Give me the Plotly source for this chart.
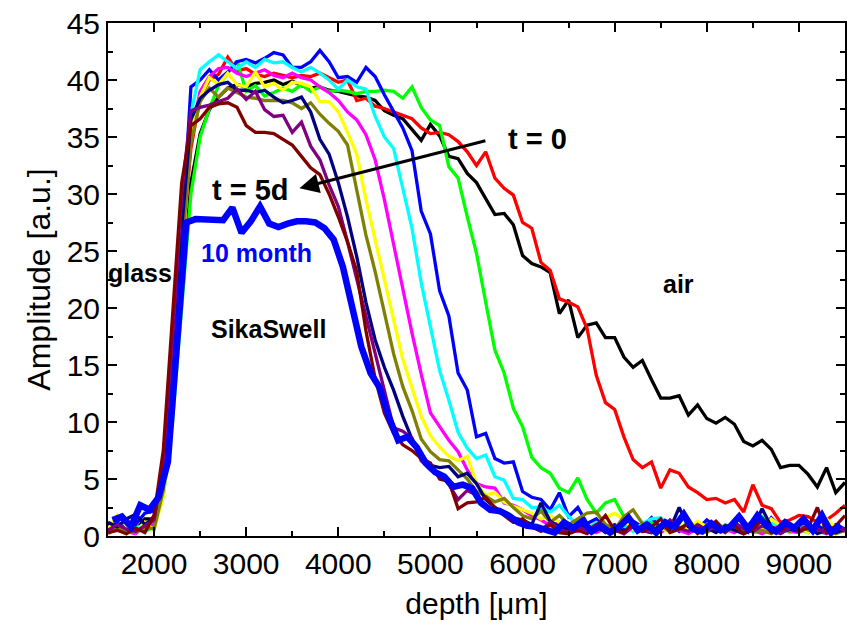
import plotly.graph_objects as go

# ---------------- data ----------------
depth = list(range(1500, 9501, 100))          # 81 points, common grid
depth_10m = list(range(1550, 9451, 100))      # 80 points, grid of the 10 month curve

amp_t0 = [1.0, 0.8, 1.2, 0.5, 1.5, 1.5, 4.5, 11, 21, 31,
          35.3, 37.4, 38.5, 39.3, 39.6, 39.4, 39.7, 39.8, 40.0, 39.6,
          39.9, 39.5, 39.3, 39.4, 39.1, 39.0, 38.8, 38.6, 38.5, 38.2,
          37.3, 36.9, 36.6, 35.6, 34.7, 36.1, 35.1, 33.3, 33.1, 31.8,
          31.0, 29.6, 28.2, 28.3, 27.3, 24.6, 23.9, 23.6, 23.1, 19.5,
          20.7, 17.4, 18.5, 18.7, 17.4, 17.4, 15.7, 14.8, 15.4, 13.7,
          12.1, 12.1, 12.3, 10.6, 11.5, 10.3, 9.9, 10.4, 9.8, 8.3,
          7.9, 8.4, 7.6, 6.0, 6.2, 6.2, 5.4, 4.3, 6.0, 3.8,
          4.7]
amp_red = [0.5, 1.0, 0.3, 0.8, 0.6, 1.8, 5.5, 14, 25, 34,
           38.5, 40.0, 40.5, 42.0, 40.8, 41.0, 40.5, 40.3, 40.6, 40.4,
           40.2, 40.4, 40.3, 40.6, 40.2, 39.8, 40.0, 38.2, 38.4, 37.7,
           37.5, 37.2, 36.9, 36.6, 35.8, 35.3, 35.4, 35.2, 34.6, 33.7,
           32.5, 33.7, 31.4, 30.5, 29.9, 27.5, 27.0, 24.0, 23.3, 20.8,
           20.5, 20.1, 18.2, 14.1, 11.7, 11.1, 8.7, 6.7, 6.0, 6.5,
           4.2, 5.8, 5.5, 4.3, 3.8, 3.2, 3.3, 2.9, 3.2, 2.1,
           4.5, 2.7, 2.4, 1.2, 1.4, 1.8, 1.7, 1.2, 1.4, 2.0,
           2.7]
amp_green = [0.3, 0.6, 0.2, 0.9, 0.4, 0.8, 3.5, 10, 20, 30,
             35, 37.5, 39.5, 40.6, 41.7, 39.0, 39.5, 38.6, 38.9, 39.3,
             39.0, 39.6, 39.0, 39.4, 39.0, 39.1, 39.0, 38.8, 39.0, 39.0,
             39.1, 39.0, 38.4, 39.4, 37.6, 36.5, 36.0, 32.4, 31.4, 28.0,
             24.8, 20.5, 16.3, 14.3, 11.2, 9.6, 6.9, 6.0, 5.5, 4.2,
             3.8, 5.1, 3.2, 2.0, 2.9, 3.2, 1.7, 1.0, 0.6, 1.2,
             0.4, 0.8, 0.5, 1.3, 0.7, 0.9, 0.4, 1.0, 0.6, 0.3,
             0.8, 1.7, 0.9, 0.5, 1.1, 0.6, 0.3, 0.9, 0.5, 0.7,
             0.4]
amp_blue = [0.7, 1.3, 0.5, 1.0, 2.0, 2.2, 6, 14, 26, 39.4,
            40.0, 40.9, 40.0, 40.7, 41.6, 41.8, 41.5, 41.9, 42.4, 42.2,
            41.1, 41.1, 41.6, 42.6, 41.6, 40.2, 40.3, 39.8, 41.1, 40.3,
            38.7, 37.3, 35.8, 33.8, 28.5, 26.5, 21.5, 19.3, 14.3, 12.8,
            8.7, 9.0, 6.8, 6.4, 6.5, 3.9, 3.4, 3.2, 2.3, 3.8,
            1.7, 2.5, 1.1, 1.5, 0.6, 1.0, 0.5, 1.3, 0.8, 1.6,
            0.7, 1.2, 0.4, 1.0, 0.6, 1.4, 0.8, 0.5, 1.1, 0.7,
            1.3, 0.5, 1.6, 0.8, 0.4, 1.2, 0.6, 0.9, 0.5, 1.0,
            0.6]
amp_cyan = [0.4, 0.9, 1.4, 0.6, 1.1, 1.2, 5, 13, 26, 37,
            40.9, 41.6, 42.2, 41.6, 41.0, 41.6, 41.1, 41.8, 41.5, 41.6,
            41.1, 40.7, 41.1, 40.6, 40.0, 39.2, 40.0, 39.4, 39.2, 36.8,
            35.0, 34.0, 30.5, 27.0, 22.2, 18.3, 14.5, 11.9, 9.1, 7.7,
            6.8, 7.1, 5.2, 4.9, 3.3, 3.2, 2.5, 2.5, 2.1, 2.7,
            1.7, 1.0, 0.6, 1.2, 0.8, 0.5, 0.9, 0.4, 1.1, 1.5,
            1.6, 0.7, 0.5, 1.0, 0.3, 0.9, 1.2, 0.6, 0.4, 1.0,
            0.7, 0.5, 1.1, 0.8, 0.3, 0.6, 1.0, 0.4, 0.2, 0.8,
            0.5]
amp_magenta = [0.3, 0.8, 0.4, 0.2, 0.9, 1.0, 4.5, 12, 24, 35,
               39.0, 40.3, 41.0, 41.1, 40.6, 40.3, 40.6, 40.9, 40.4, 40.2,
               40.6, 40.2, 40.0, 39.4, 38.9, 38.2, 37.2, 36.5, 35.2, 33.0,
               29.5, 25.5, 21.5, 17.8, 14.2, 10.8, 9.6, 8.4, 7.4, 5.8,
               4.6, 4.3, 4.2, 2.9, 2.7, 2.3, 1.8, 1.4, 0.9, 1.2,
               0.6, 0.4, 0.9, 0.3, 0.7, 0.5, 0.2, 0.8, 0.4, 0.6,
               0.3, 0.9, 0.5, 0.2, 0.7, 1.0, 0.4, 0.6, 0.3, 0.8,
               0.5, 0.2, 0.6, 0.9, 0.4, 0.3, 0.7, 0.5, 0.2, 0.6,
               0.4]
amp_yellow = [0.6, 1.8, 0.9, 0.3, 1.2, 0.5, 3.5, 11, 24, 35.6,
              38.5, 40.2, 39.6, 40.6, 39.6, 39.4, 40.7, 39.4, 39.7, 39.1,
              39.8, 39.7, 39.4, 38.1, 38.1, 37.2, 35.4, 33.5, 29.5, 26.0,
              22.5, 18.7, 15.5, 13.0, 10.5, 8.8, 7.8, 7.0, 6.6, 7.0,
              4.6, 3.6, 3.8, 3.0, 2.6, 2.3, 2.0, 1.5, 1.8, 1.2,
              0.8, 1.0, 0.5, 0.9, 1.6, 2.0, 1.4, 0.6, 0.9, 0.4,
              0.7, 0.3, 1.0, 0.6, 1.3, 0.8, 0.4, 0.9, 0.5, 0.7,
              1.2, 0.6, 1.5, 0.9, 0.4, 0.8, 0.3, 1.2, 1.5, 0.7,
              0.5]
amp_olive = [0.2, 0.7, 0.4, 0.3, 0.8, 0.6, 4, 12, 25, 34.5,
             38.1, 39.3, 38.5, 39.3, 38.9, 38.5, 38.4, 38.2, 38.2, 38.2,
             38.0, 37.5, 38.0, 37.0, 36.2, 35.5, 34.3, 30.5, 26.4, 23.2,
             19.5, 16.0, 13.1, 11.0, 8.5, 7.4, 6.7, 6.6, 5.8, 5.0,
             3.9, 3.5, 3.0, 3.3, 2.5, 1.8, 1.5, 2.2, 1.2, 1.8,
             1.0, 1.5, 2.0, 2.1, 1.0, 0.6, 1.7, 2.3, 1.1, 0.5,
             0.9, 0.4, 0.7, 1.0, 0.5, 0.3, 0.8, 0.4, 0.6, 0.9,
             0.3, 0.5, 0.2, 0.7, 0.4, 0.9, 0.5, 0.3, 0.6, 0.2,
             0.5]
amp_navy = [1.2, 0.8, 1.5, 1.9, 1.0, 1.6, 6, 15, 27, 36.5,
            38.4, 39.1, 39.6, 39.8, 39.1, 39.1, 38.9, 39.1, 38.5, 38.0,
            38.2, 38.5, 37.2, 34.8, 33.5, 31.0, 28.0, 24.5, 20.5, 17.2,
            14.8, 12.8, 10.5, 8.5, 7.1, 6.2, 6.0, 6.1, 5.2, 5.5,
            4.6, 3.2, 2.5, 2.0, 1.6, 1.4, 1.0, 2.9, 1.3, 0.8,
            0.6, 1.1, 0.5, 0.9, 0.3, 0.7, 0.4, 0.8, 0.5, 0.3,
            1.0, 0.6, 2.5, 0.8, 0.4, 0.7, 0.3, 0.9, 0.5, 0.2,
            0.6, 2.4, 0.8, 0.3, 0.6, 0.4, 0.9, 0.2, 0.5, 0.3,
            0.6]
amp_purple = [0.5, 1.0, 0.6, 0.4, 0.9, 1.4, 6.5, 17, 30, 37.3,
              37.6, 37.8, 38.1, 38.4, 39.2, 38.3, 39.0, 37.4, 36.8, 36.9,
              35.4, 36.3, 34.2, 33.0, 30.8, 28.9, 25.8, 22.5, 19.2, 16.0,
              12.8, 9.5, 9.2, 8.6, 6.6, 5.8, 5.5, 4.5, 3.2, 4.0,
              3.6, 2.6, 2.2, 1.9, 1.4, 1.0, 0.8, 0.5, 1.2, 0.6,
              0.3, 0.8, 0.5, 1.0, 0.4, 0.7, 0.2, 0.9, 0.5, 0.3,
              0.6, 1.4, 0.7, 0.4, 1.0, 0.5, 0.8, 0.3, 1.2, 0.6,
              0.4, 0.9, 0.5, 0.2, 0.7, 0.4, 1.0, 0.6, 0.3, 0.8,
              0.5]
amp_maroon = [0.3, 0.5, 0.2, 0.7, 0.3, 1.8, 7.5, 19, 31, 36.0,
              36.6, 37.6, 37.9, 38.0, 37.6, 36.0, 35.4, 35.4, 35.3, 34.8,
              34.3, 33.3, 32.3, 31.7, 30.0, 28.0, 25.8, 23.2, 18.0, 13.8,
              10.8, 9.0, 8.0, 7.5, 6.8, 6.4, 5.0, 4.8, 2.4, 2.9,
              3.0, 3.4, 2.5, 1.8, 1.2, 1.5, 0.8, 0.4, 1.0, 0.3,
              0.2, 0.5, 0.2, 0.9, 1.8, 0.5, 0.3, 1.2, 0.4, 0.8,
              1.5, 0.3, 0.6, 1.1, 0.2, 0.7, 1.3, 0.4, 0.9, 0.2,
              0.6, 1.4, 0.3, 0.5, 1.0, 0.4, 0.7, 2.5, 0.3, 0.9,
              1.8]
amp_10month = [1.4, 1.7, 0.8, 2.7, 2.3, 3.4, 6.5, 17, 27.5, 27.8,
               27.8, 27.8, 27.7, 28.8, 26.6, 27.6, 28.9, 27.4, 27.1, 27.4,
               27.6, 27.6, 27.5, 27.0, 26.0, 23.6, 20.0, 16.6, 14.3, 13.0,
               10.4, 8.4, 8.7, 7.8, 6.4, 5.6, 5.2, 4.3, 4.5, 4.2,
               2.9, 2.3, 2.2, 1.8, 1.2, 0.9, 0.8, 0.5, 0.3, 1.2,
               0.7, 1.3, 0.4, 0.9, 0.3, 0.8, 1.6, 0.5, 1.0, 0.3,
               1.2, 0.8, 1.9, 0.6, 0.4, 1.1, 0.5, 0.8, 1.7, 0.6,
               1.8, 0.9, 0.4, 1.2, 0.7, 1.5, 0.5, 1.8, 0.3, 1.0]

series = [
    ("t = 0", depth, amp_t0, "#000000", 3.3),
    ("red", depth, amp_red, "#ff0000", 3.3),
    ("green", depth, amp_green, "#00ff00", 3.3),
    ("blue", depth, amp_blue, "#0000ff", 3.3),
    ("cyan", depth, amp_cyan, "#00ffff", 3.3),
    ("magenta", depth, amp_magenta, "#ff00ff", 3.3),
    ("yellow", depth, amp_yellow, "#ffff00", 3.3),
    ("olive", depth, amp_olive, "#808000", 3.3),
    ("navy", depth, amp_navy, "#000080", 3.3),
    ("purple", depth, amp_purple, "#800080", 3.3),
    ("t = 5d", depth, amp_maroon, "#800000", 3.3),
    ("10 month", depth_10m, amp_10month, "#0000ff", 6.5),
]

FONT = "Liberation Sans, Arial, Helvetica, sans-serif"

fig = go.Figure()
for name, xs, ys, col, w in series:
    fig.add_trace(go.Scatter(x=xs, y=ys, mode="lines", name=name,
                             line=dict(color=col, width=w), showlegend=False))

labels = [
    ("t = 0", 6165, 34.8, 29, "#000000"),
    ("t = 5d", 3048, 30.35, 29, "#000000"),
    ("10 month", 3113, 24.8, 25, "#0000ff"),
    ("glass", 1846, 23.1, 25, "#000000"),
    ("SikaSwell", 3242, 18.2, 25, "#000000"),
    ("air", 7690, 22.1, 25, "#000000"),
]
for txt, x, y, size, col in labels:
    fig.add_annotation(x=x, y=y, xref="x", yref="y", text=txt, showarrow=False,
                       font=dict(family=FONT, size=size, color=col, weight="bold"))

# arrow from t=0 towards t=5d
fig.add_annotation(x=3578, y=30.5, ax=5613, ay=34.7, xref="x", yref="y",
                   axref="x", ayref="y", text="", showarrow=True,
                   arrowhead=2, arrowsize=1.3, arrowwidth=3, arrowcolor="#000000")

axis_common = dict(showline=True, linewidth=2, linecolor="#000000", mirror="ticks",
                   ticks="inside", ticklen=9, tickwidth=2, tickcolor="#000000",
                   showgrid=False, zeroline=False,
                   tickfont=dict(family=FONT, size=30, color="#000000"))

fig.update_xaxes(range=[1500, 9500], tick0=2000, dtick=1000,
                 minor=dict(dtick=500, ticks="inside", ticklen=5, tickwidth=2, tickcolor="#000000"),
                 title=dict(text="depth [μm]", font=dict(family=FONT, size=30, color="#000000"), standoff=14),
                 **axis_common)
fig.update_yaxes(range=[0, 45], tick0=0, dtick=5,
                 minor=dict(dtick=2.5, ticks="inside", ticklen=5, tickwidth=2, tickcolor="#000000"),
                 title=dict(text="Amplitude [a.u.]", font=dict(family=FONT, size=32, color="#000000"), standoff=6),
                 **axis_common)

fig.update_layout(width=849, height=631, margin=dict(l=108, r=2, t=23, b=95),
                  paper_bgcolor="#ffffff", plot_bgcolor="#ffffff")

fig.write_html("out.html")
